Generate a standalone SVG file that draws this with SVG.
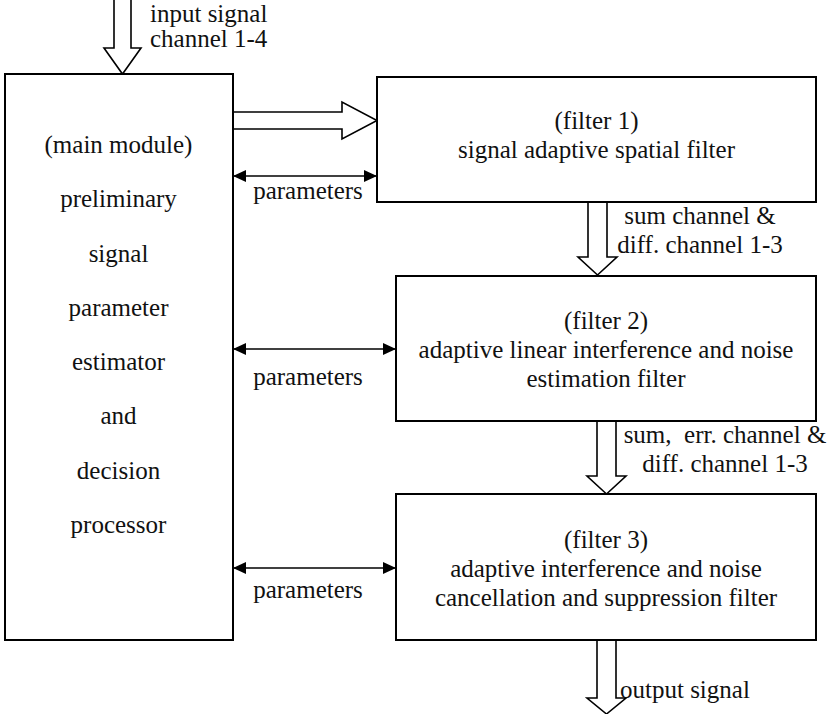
<svg xmlns="http://www.w3.org/2000/svg" width="833" height="714" viewBox="0 0 833 714">
  <defs>
    <marker id="tri" viewBox="0 0 13 12" refX="13" refY="6" markerWidth="13" markerHeight="12" markerUnits="userSpaceOnUse" orient="auto-start-reverse">
      <path d="M0,0 L13,6 L0,12 Z" fill="#000"/>
    </marker>
    <style>
      .box { fill: #fff; stroke: #000; stroke-width: 2; }
      .block { fill: #fff; stroke: #000; stroke-width: 1.6; stroke-linejoin: miter; }
      .wire { fill: none; stroke: #000; stroke-width: 1.6; marker-start: url(#tri); marker-end: url(#tri); }
      text { font-family: "Liberation Serif", "Times New Roman", serif; font-size: 25px; fill: #111; }
      .c { text-anchor: middle; }
    </style>
  </defs>
  <rect width="833" height="714" fill="#fff"/>

  <g id="connectors">
    <!-- input block arrow into the main module -->
    <path class="block" d="M114,-2 L131,-2 L131,48 L141,48 L122.5,74 L104,48 L114,48 Z"/>
    <!-- wide data path: main module to filter 1 -->
    <path class="block" d="M233,112 L342,112 L342,102 L377,120.5 L342,139 L342,129 L233,129"/>
    <!-- filter 1 to filter 2 -->
    <path class="block" d="M588,202 L588,257 L578,257 L597.5,275 L617,257 L607,257 L607,202"/>
    <!-- filter 2 to filter 3 -->
    <path class="block" d="M597,421 L597,476 L587,476 L606.5,494 L626,476 L616,476 L616,421"/>
    <!-- filter 3 output -->
    <path class="block" d="M597,640 L597,698 L587,698 L606.5,714 L626,698 L616,698 L616,640"/>
    <!-- parameter exchange links -->
    <line class="wire" x1="233" y1="176" x2="377" y2="176"/>
    <line class="wire" x1="233" y1="349" x2="396" y2="349"/>
    <line class="wire" x1="233" y1="568" x2="396" y2="568"/>
    <text x="150" y="22">input signal</text>
    <text x="150" y="47">channel 1-4</text>
    <text class="c" x="308" y="199">parameters</text>
    <text class="c" x="308" y="385">parameters</text>
    <text class="c" x="308" y="598">parameters</text>
    <text class="c" x="700" y="224">sum channel &amp;</text>
    <text class="c" x="700" y="253">diff. channel 1-3</text>
    <text class="c" x="725" y="443" xml:space="preserve">sum,  err. channel &amp;</text>
    <text class="c" x="725" y="472">diff. channel 1-3</text>
    <text x="620" y="698">output signal</text>
  </g>

  <g id="main-module">
    <rect class="box" x="5" y="74" width="228" height="566"/>
    <text class="c" x="118.5" y="153">(main module)</text>
    <text class="c" x="118.5" y="207">preliminary</text>
    <text class="c" x="118.5" y="262">signal</text>
    <text class="c" x="118.5" y="316">parameter</text>
    <text class="c" x="118.5" y="370">estimator</text>
    <text class="c" x="118.5" y="424">and</text>
    <text class="c" x="118.5" y="479">decision</text>
    <text class="c" x="118.5" y="533">processor</text>
  </g>

  <g id="filter-1">
    <rect class="box" x="377" y="77" width="439" height="125"/>
    <text class="c" x="596.5" y="129">(filter 1)</text>
    <text class="c" x="596.5" y="158">signal adaptive spatial filter</text>
  </g>

  <g id="filter-2">
    <rect class="box" x="396" y="276" width="420" height="145"/>
    <text class="c" x="606" y="329">(filter 2)</text>
    <text class="c" x="606" y="358">adaptive linear interference and noise</text>
    <text class="c" x="606" y="387">estimation filter</text>
  </g>

  <g id="filter-3">
    <rect class="box" x="396" y="494" width="420" height="146"/>
    <text class="c" x="606" y="548">(filter 3)</text>
    <text class="c" x="606" y="577">adaptive interference and noise</text>
    <text class="c" x="606" y="606">cancellation and suppression filter</text>
  </g>
</svg>
